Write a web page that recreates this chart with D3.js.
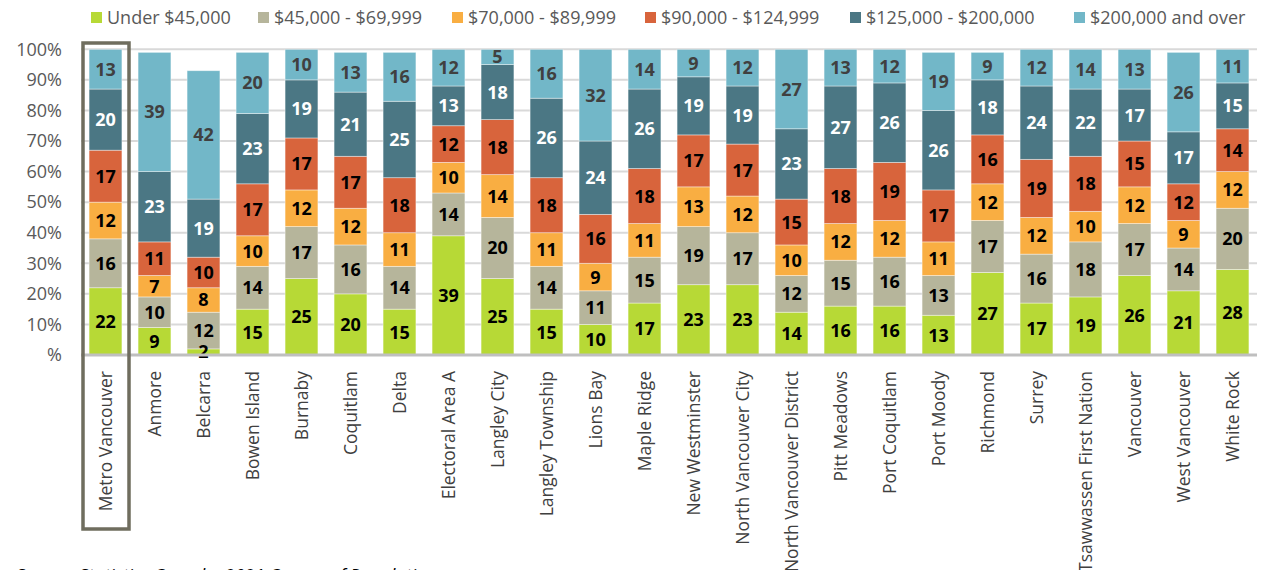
<!DOCTYPE html>
<html>
<head>
<meta charset="utf-8">
<script src="https://cdn.jsdelivr.net/npm/d3@7"></script>
<style>
  body { margin: 0; background: #fff; }
  text { font-family: "Open Sans", sans-serif; }
</style>
</head>
<body>
<div id="chart"></div>
<script>
// data
var municipalities = ["Metro Vancouver", "Anmore", "Belcarra", "Bowen Island", "Burnaby", "Coquitlam",
  "Delta", "Electoral Area A", "Langley City", "Langley Township", "Lions Bay", "Maple Ridge",
  "New Westminster", "North Vancouver City", "North Vancouver District", "Pitt Meadows",
  "Port Coquitlam", "Port Moody", "Richmond", "Surrey", "Tsawwassen First Nation", "Vancouver",
  "West Vancouver", "White Rock"];

var incomeGroups = ["Under $45,000", "$45,000 - $69,999", "$70,000 - $89,999",
  "$90,000 - $124,999", "$125,000 - $200,000", "$200,000 and over"];

var under45 = [22, 9, 2, 15, 25, 20, 15, 39, 25, 15, 10, 17, 23, 23, 14, 16, 16, 13, 27, 17, 19, 26, 21, 28];
var from45to70 = [16, 10, 12, 14, 17, 16, 14, 14, 20, 14, 11, 15, 19, 17, 12, 15, 16, 13, 17, 16, 18, 17, 14, 20];
var from70to90 = [12, 7, 8, 10, 12, 12, 11, 10, 14, 11, 9, 11, 13, 12, 10, 12, 12, 11, 12, 12, 10, 12, 9, 12];
var from90to125 = [17, 11, 10, 17, 17, 17, 18, 12, 18, 18, 16, 18, 17, 17, 15, 18, 19, 17, 16, 19, 18, 15, 12, 14];
var from125to200 = [20, 23, 19, 23, 19, 21, 25, 13, 18, 26, 24, 26, 19, 19, 23, 27, 26, 26, 18, 24, 22, 17, 17, 15];
var over200 = [13, 39, 42, 20, 10, 13, 16, 12, 5, 16, 32, 14, 9, 12, 27, 13, 12, 19, 9, 12, 14, 13, 26, 11];

var yTicks = [0, 10, 20, 30, 40, 50, 60, 70, 80, 90, 100];

var colors = ["#b7d936", "#b6b59b", "#f9ae42", "#d8643c", "#4b7784", "#72b7c8"];
var labelColors = ["#000", "#000", "#000", "#000", "#fff", "#404040"];

// build rows for the stack
var series = [under45, from45to70, from70to90, from90to125, from125to200, over200];
var rows = municipalities.map(function (m, i) {
  var r = { name: m };
  incomeGroups.forEach(function (g, k) { r[g] = series[k][i]; });
  return r;
});

var W = 1266, H = 570;
var svg = d3.select("#chart").append("svg")
  .attr("width", W)
  .attr("height", H);

var x = d3.scaleBand().domain(municipalities).range([81, 1257]).paddingInner(0.33).paddingOuter(0.165);
var y = d3.scaleLinear().domain([0, 100]).range([355, 49.3]);

// gridlines
svg.append("g").selectAll("line")
  .data(yTicks.filter(function (d) { return d > 0; }))
  .enter().append("line")
  .attr("x1", 81).attr("x2", 1257)
  .attr("y1", function (d) { return y(d); })
  .attr("y2", function (d) { return y(d); })
  .attr("stroke", "#d9d9d9")
  .attr("stroke-width", 2);

// y axis labels
var yAxis = svg.append("g")
  .attr("transform", "translate(66,0)")
  .call(d3.axisLeft(y).tickValues(yTicks).tickSize(0)
    .tickFormat(function (d) { return d === 0 ? "%" : d + "%"; }));
yAxis.select(".domain").remove();
yAxis.selectAll("text")
  .attr("x", -4)
  .style("font-family", "'Open Sans', sans-serif")
  .style("font-size", "18px")
  .attr("fill", "#595959");

// clip at 100%
svg.append("clipPath").attr("id", "plotclip")
  .append("rect").attr("x", 0).attr("y", y(100)).attr("width", W).attr("height", y(0) - y(100));

var stack = d3.stack().keys(incomeGroups);
var stacked = stack(rows);

var layers = svg.append("g").attr("clip-path", "url(#plotclip)")
  .selectAll("g")
  .data(stacked)
  .enter().append("g")
  .attr("fill", function (d, i) { return colors[i]; });

layers.selectAll("rect")
  .data(function (d) { return d; })
  .enter().append("rect")
  .attr("x", function (d) { return x(d.data.name); })
  .attr("width", x.bandwidth())
  .attr("y", function (d) { return y(Math.min(d[1], 100)); })
  .attr("height", function (d) { return y(Math.min(d[0], 100)) - y(Math.min(d[1], 100)); })
  .attr("stroke", "#ffffff")
  .attr("stroke-opacity", 0.5)
  .attr("stroke-width", 0.8);

// value labels
var labels = svg.append("g");
stacked.forEach(function (layer, k) {
  labels.selectAll(null)
    .data(layer)
    .enter().append("text")
    .attr("x", function (d) { return x(d.data.name) + x.bandwidth() / 2; })
    .attr("y", function (d) { return y((Math.min(d[0], 100) + Math.min(d[1], 100)) / 2); })
    .attr("dy", "0.36em")
    .attr("text-anchor", "middle")
    .style("font-size", "18px")
    .style("font-weight", "bold")
    .attr("fill", labelColors[k])
    .text(function (d) { return d[1] - d[0]; });
});

// baseline
svg.append("line")
  .attr("x1", 81).attr("x2", 1257)
  .attr("y1", y(0)).attr("y2", y(0))
  .attr("stroke", "#bfbfbf")
  .attr("stroke-width", 3);

// category labels
svg.append("g").selectAll("text")
  .data(municipalities)
  .enter().append("text")
  .attr("transform", function (d) { return "translate(" + (x(d) + x.bandwidth() / 2) + ",371) rotate(-90)"; })
  .attr("dy", "0.35em")
  .attr("text-anchor", "end")
  .style("font-size", "17.5px")
  .attr("fill", "#404040")
  .text(function (d) { return d; });

// highlight box round Metro Vancouver
svg.append("rect")
  .attr("x", 83).attr("y", 43)
  .attr("width", 46).attr("height", 486)
  .attr("fill", "none")
  .attr("stroke", "#6f6d5e")
  .attr("stroke-width", 3.5);

// legend
var legendX = [91, 258, 452, 645, 850, 1074];
var legend = svg.append("g").selectAll("g")
  .data(incomeGroups)
  .enter().append("g")
  .attr("transform", function (d, i) { return "translate(" + legendX[i] + ",0)"; });
legend.append("rect")
  .attr("x", 0).attr("y", 12)
  .attr("width", 11).attr("height", 11)
  .attr("fill", function (d, i) { return colors[i]; });
legend.append("text")
  .attr("x", 16).attr("y", 24)
  .style("font-size", "18px")
  .attr("fill", "#595959")
  .text(function (d) { return d; });

// source note (cut off at the bottom edge)
svg.append("text")
  .attr("x", 16).attr("y", 582)
  .style("font-size", "18px")
  .style("font-style", "italic")
  .attr("fill", "#000")
  .text("Source: Statistics Canada, 2021 Census of Population");
</script>
</body>
</html>
